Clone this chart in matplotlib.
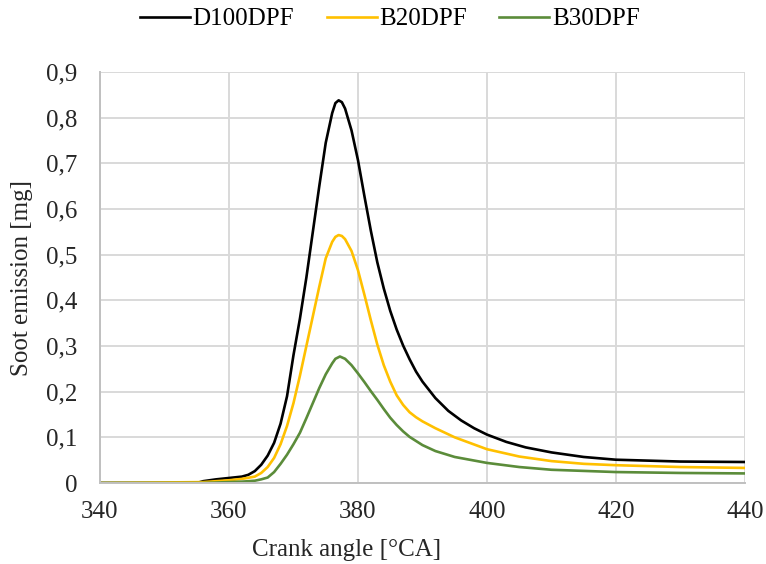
import matplotlib
matplotlib.use("Agg")
import matplotlib.pyplot as plt
from matplotlib.ticker import FuncFormatter

plt.rcParams['font.family'] = ['Liberation Serif', 'DejaVu Serif']

# crank angle [deg CA] and soot emission [mg]
d100_x = [340, 355, 356, 358, 360, 362, 363, 364, 365, 366, 367, 368, 369, 370,
          371, 372, 373, 374, 375, 376, 376.5, 377, 377.5, 378, 379, 380, 381,
          382, 383, 384, 385, 386, 387, 388, 389, 390, 392, 394, 396, 398, 400,
          403, 406, 410, 415, 420, 430, 440]
d100_y = [0, 0, 0.004, 0.008, 0.011, 0.014, 0.018, 0.026, 0.04, 0.06, 0.088, 0.13,
          0.19, 0.28, 0.36, 0.45, 0.55, 0.65, 0.745, 0.81, 0.832, 0.838, 0.834,
          0.82, 0.772, 0.707, 0.628, 0.552, 0.483, 0.426, 0.377, 0.336, 0.301,
          0.271, 0.244, 0.222, 0.186, 0.158, 0.137, 0.12, 0.106, 0.09, 0.078,
          0.067, 0.057, 0.051, 0.047, 0.046]

b20_x = [340, 356, 358, 360, 362, 364, 365, 366, 367, 368, 369, 370, 371, 372,
         373, 374, 375, 376, 376.5, 377, 377.5, 378, 379, 380, 381, 382, 383,
         384, 385, 386, 387, 388, 389, 390, 392, 395, 400, 405, 410, 415, 420,
         430, 440]
b20_y = [0, 0.002, 0.004, 0.006, 0.009, 0.014, 0.022, 0.035, 0.055, 0.085, 0.125,
         0.175, 0.235, 0.3, 0.365, 0.43, 0.492, 0.528, 0.539, 0.543, 0.541, 0.534,
         0.508, 0.466, 0.412, 0.356, 0.303, 0.258, 0.222, 0.192, 0.171, 0.155,
         0.144, 0.135, 0.12, 0.1, 0.074, 0.058, 0.048, 0.042, 0.039, 0.035, 0.033]

b30_x = [340, 356, 360, 362, 364, 365, 366, 367, 368, 369, 370, 371, 372, 373,
         374, 375, 376, 376.5, 377.2, 378, 379, 380, 381, 382, 383, 384, 385,
         386, 387, 388, 390, 392, 395, 400, 405, 410, 420, 430, 440]
b30_y = [0, 0, 0.002, 0.003, 0.005, 0.008, 0.012, 0.024, 0.042, 0.062, 0.085,
         0.11, 0.142, 0.175, 0.208, 0.238, 0.262, 0.272, 0.277, 0.272, 0.258,
         0.24, 0.221, 0.201, 0.182, 0.162, 0.143, 0.127, 0.113, 0.101, 0.083,
         0.07, 0.057, 0.044, 0.035, 0.029, 0.024, 0.022, 0.021]

x_ticks = [340, 360, 380, 400, 420, 440]
y_ticks = [0, 0.1, 0.2, 0.3, 0.4, 0.5, 0.6, 0.7, 0.8, 0.9]

fig = plt.figure(figsize=(7.66, 5.64), dpi=100)
ax = fig.add_axes([0.1305, 0.1436, 0.8421, 0.7287])

ax.plot(d100_x, d100_y, color='black', lw=1.9, label='D100DPF')
ax.plot(b20_x, b20_y, color='#FFC000', lw=1.9, label='B20DPF')
ax.plot(b30_x, b30_y, color='#5b8c3a', lw=1.9, label='B30DPF')

ax.set_xlim(340, 440)
ax.set_ylim(0, 0.9)
ax.set_xticks(x_ticks)
ax.set_yticks(y_ticks)
ax.yaxis.set_major_formatter(FuncFormatter(
    lambda v, p: '0' if v == 0 else ('%.1f' % v).replace('.', ',')))
ax.tick_params(length=0, labelsize=18, colors='#262626')
ax.tick_params(axis='y', pad=16)
ax.tick_params(axis='x', pad=13)

ax.grid(True, color='#d9d9d9', lw=1.4)
ax.set_axisbelow(True)
for s in ['top', 'right']:
    ax.spines[s].set_visible(False)
for s in ['left', 'bottom']:
    ax.spines[s].set_color('#c0c0c0')
    ax.spines[s].set_linewidth(1.4)

ax.set_xlabel('Crank angle [°CA]', fontsize=18, color='#262626')
ax.xaxis.set_label_coords(0.383, -0.137)
ax.set_ylabel('Soot emission [mg]', fontsize=18, color='#262626')
ax.yaxis.set_label_coords(-0.104, 0.5)

fig.legend(loc='center', bbox_to_anchor=(0.509, 0.966), ncol=3, frameon=False,
           fontsize=18, handlelength=2.0, handletextpad=0.1, columnspacing=1.3)

fig.savefig('out.png', dpi=100)
